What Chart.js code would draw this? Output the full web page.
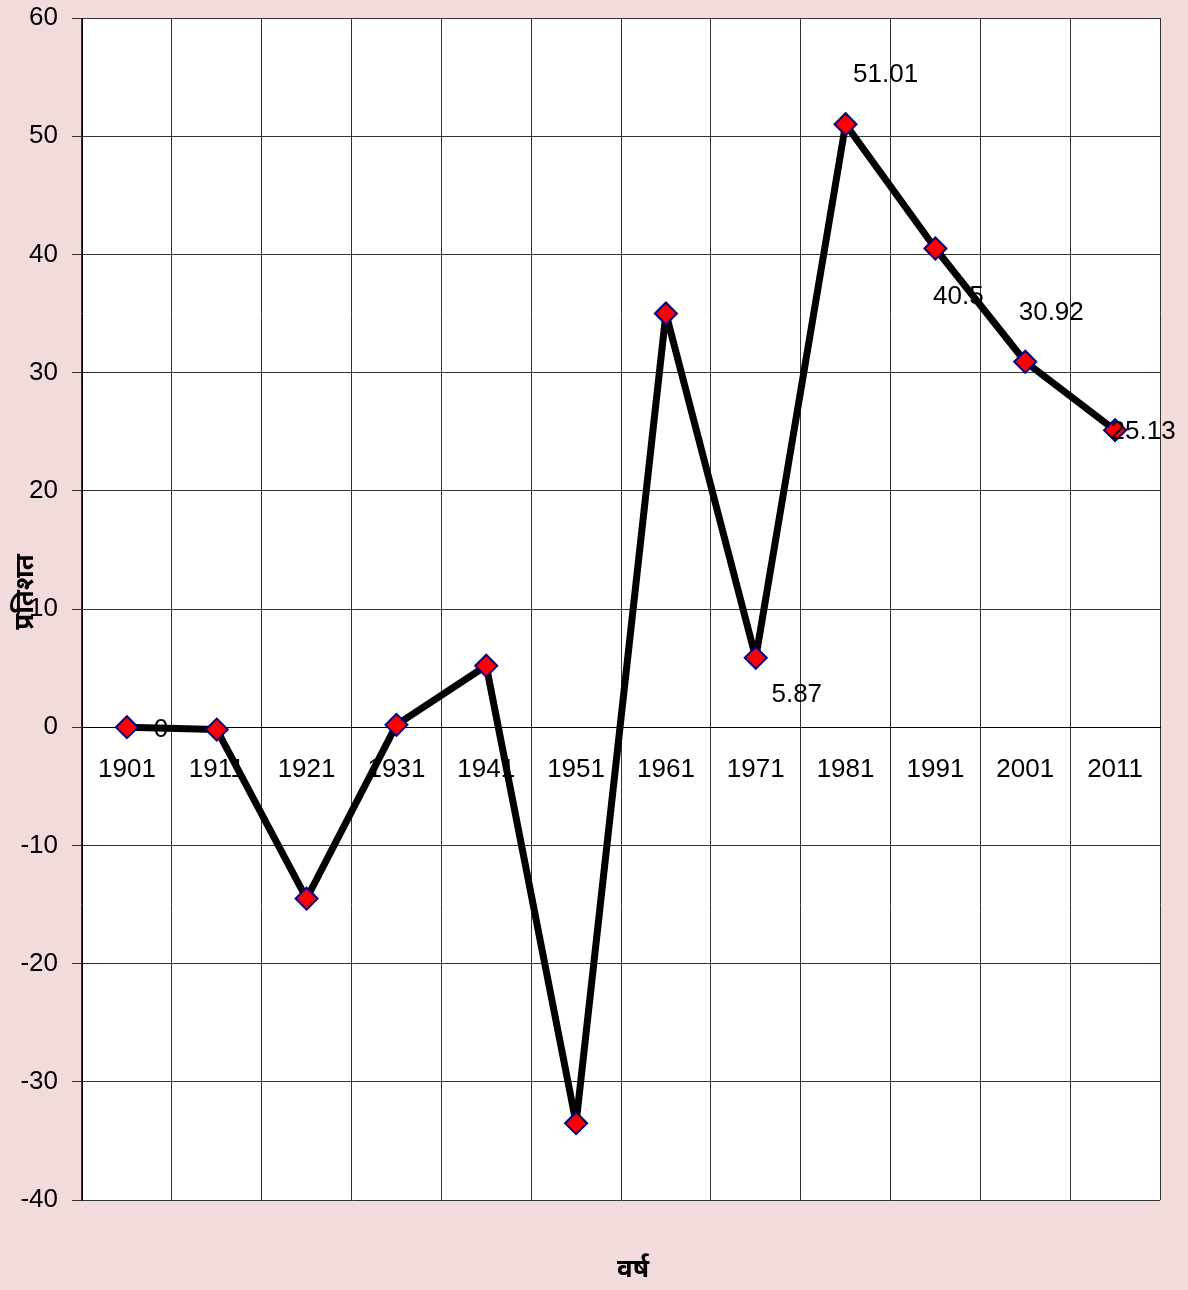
<!DOCTYPE html>
<html>
<head>
<meta charset="utf-8">
<script src="https://cdn.jsdelivr.net/npm/chart.js@4/dist/chart.umd.min.js"></script>
<style>
  html, body { margin: 0; padding: 0; background: #f2dcdb; }
  #wrap { width: 1188px; height: 1290px; }
</style>
</head>
<body>
<div id="wrap"><canvas id="chart" width="1188" height="1290"></canvas></div>
<script>
  // decade growth (%)
  const years = ['1901', '1911', '1921', '1931', '1941', '1951', '1961', '1971', '1981', '1991', '2001', '2011'];
  const growth = [0, -0.2, -14.5, 0.2, 5.2, -33.5, 35.0, 5.87, 51.01, 40.5, 30.92, 25.13];
  const shownLabels = ['0', null, null, null, null, null, null, '5.87', '51.01', '40.5', '30.92', '25.13'];
  const yTicks = [-40, -30, -20, -10, 0, 10, 20, 30, 40, 50, 60];

  // where each value label sits relative to its marker (px)
  const labelOffsets = [[34, 3], null, null, null, null, null, null, [41, 37], [40, -49], [23, 48], [26, -49], [28, 2]];

  const font = 'Liberation Sans, Arial, sans-serif';

  const plotBg = {
    id: 'plotBg',
    beforeDraw(chart) {
      const { ctx, chartArea: a } = chart;
      ctx.save();
      ctx.fillStyle = '#ffffff';
      ctx.fillRect(a.left, a.top, a.right - a.left, a.bottom - a.top);
      ctx.restore();
    },
  };

  const valueLabels = {
    id: 'valueLabels',
    afterDatasetsDraw(chart) {
      const { ctx } = chart;
      const pts = chart.getDatasetMeta(0).data;
      ctx.save();
      ctx.font = '26px ' + font;
      ctx.fillStyle = '#000';
      ctx.textAlign = 'center';
      ctx.textBaseline = 'middle';
      pts.forEach((p, i) => {
        if (shownLabels[i] == null) return;
        const [dx, dy] = labelOffsets[i];
        ctx.fillText(shownLabels[i], p.x + dx, p.y + dy);
      });
      ctx.restore();
    },
  };

  const axisTitles = {
    id: 'axisTitles',
    afterDraw(chart) {
      const { ctx, chartArea: a } = chart;
      ctx.save();
      ctx.fillStyle = '#000';
      ctx.font = 'bold 26px "Noto Sans", ' + font;
      ctx.textAlign = 'center';
      ctx.textBaseline = 'middle';
      ctx.fillText('वर्ष', (a.left + a.right) / 2 + 12, 1270);
      ctx.translate(26, 592);
      ctx.rotate(-Math.PI / 2);
      ctx.fillText('प्रतिशत', 0, 0);
      ctx.restore();
    },
  };

  new Chart(document.getElementById('chart'), {
    type: 'line',
    data: {
      labels: years,
      datasets: [{
        data: growth,
        borderColor: '#000',
        borderWidth: 7,
        borderJoinStyle: 'round',
        tension: 0,
        pointStyle: 'rectRot',
        pointRadius: 11,
        pointHoverRadius: 11,
        pointBackgroundColor: '#ff0000',
        pointBorderColor: '#000080',
        pointBorderWidth: 2,
      }],
    },
    options: {
      responsive: false,
      animation: false,
      layout: { padding: { left: 10, top: 18, right: 28, bottom: 90 } },
      plugins: { legend: { display: false }, tooltip: { enabled: false } },
      scales: {
        x: {
          position: { y: 0 },
          offset: true,
          afterFit(scale) { scale.paddingLeft = 0; scale.paddingRight = 0; scale.paddingTop = 0; scale.paddingBottom = 0; },
          grid: { offset: true, color: '#333', lineWidth: 1, drawTicks: false },
          border: { color: '#000' },
          ticks: { color: '#000', font: { size: 26, family: font }, padding: 27, maxRotation: 0, autoSkip: false },
        },
        y: {
          min: -40,
          max: 60,
          afterFit(scale) { scale.width = 72; scale.paddingTop = 0; scale.paddingBottom = 0; },
          afterBuildTicks(scale) { scale.ticks = yTicks.map((v) => ({ value: v })); },
          grid: { color: '#333', lineWidth: 1, tickLength: 10 },
          border: { color: '#000' },
          ticks: { color: '#000', font: { size: 26, family: font }, padding: 14 },
        },
      },
    },
    plugins: [plotBg, valueLabels, axisTitles],
  });
</script>
</body>
</html>
